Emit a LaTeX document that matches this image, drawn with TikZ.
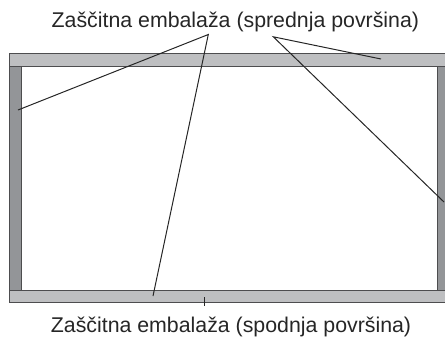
\documentclass[tikz,border=0pt]{standalone}
\usepackage{fontspec}
\setmainfont{Liberation Sans}
\definecolor{barlight}{HTML}{BEBFC1}
\definecolor{bardark}{HTML}{939598}
\definecolor{edgegray}{HTML}{4D4D4F}
\begin{document}
\begin{tikzpicture}[x=1bp,y=-1bp,
  lbl/.style={anchor=base west,inner sep=0pt,font=\fontsize{21.4}{25}\selectfont,text=black!85},
  hbar/.style={fill=barlight,draw=edgegray,line width=1bp},
  vbar/.style={fill=bardark,draw=edgegray,line width=1bp},
  leader/.style={draw=black!85,line width=1bp}]
\useasboundingbox (0,0) rectangle (445,339);
% bars
\path[vbar] (9,66) rectangle (21,290);
\path[vbar] (437,66) rectangle (450,290);
\path[hbar] (9,53) rectangle (450,66);
\path[hbar] (9,290) rectangle (450,302.5);
% labels
\node[lbl] (top) at (51.5,27) {Zaščitna embalaža (sprednja površina)};
\node[lbl] (bot) at (50.7,332) {Zaščitna embalaža (spodnja površina)};
% leader coordinates
\coordinate (a1) at (208.3,34.5);
\coordinate (a2) at (273.3,36.8);
\coordinate (e1) at (18,110);
\coordinate (e2) at (153,296);
\coordinate (e3) at (381,59);
\coordinate (e4) at (444,202);
\coordinate (b1) at (204,297);
\coordinate (b2) at (204,306);
\draw[leader] (e1) -- (a1) -- (e2);
\draw[leader] (e3) -- (a2) -- (e4);
\draw[leader] (b1) -- (b2);
\end{tikzpicture}
\end{document}
